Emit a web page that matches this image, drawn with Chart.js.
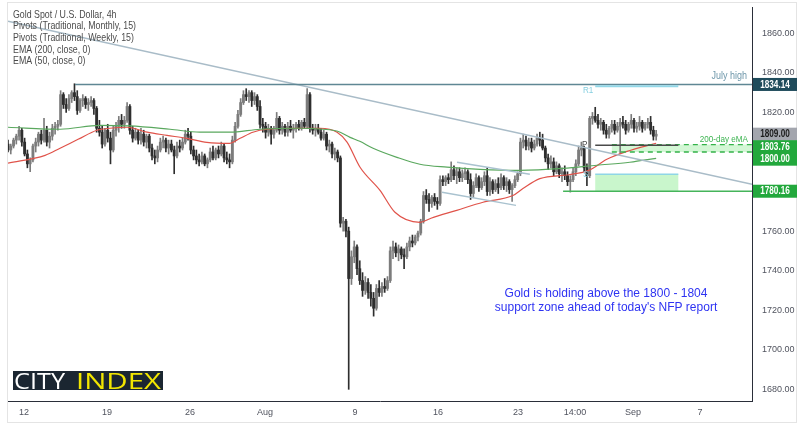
<!DOCTYPE html>
<html><head><meta charset="utf-8">
<script src="https://cdn.jsdelivr.net/npm/chart.js@4/dist/chart.umd.min.js"></script>
<style>html,body{margin:0;padding:0;background:#fff}#wrap{width:801px;height:427px;position:relative}</style>
</head><body><div id="wrap"><canvas id="c" width="801" height="427"></canvas></div>
<script>
// ---- data (4h candles, index 0 = first candle shown) ----
const opens = [
1804,1801,1803,1806,1808,1811,1805,1799,1794,1796,
1803,1805,1809,1806,1811,1805,1808,1812,1813,1814,
1829,1824,1822,1827,1830,1828,1821,1826,1827,1824,
1825,1826,1822,1812,1810,1804,1811,1807,1801,1811,
1813,1816,1814,1816,1823,1811,1807,1810,1806,1809,
1805,1808,1802,1798,1797,1801,1805,1806,1802,1804,
1801,1798,1803,1802,1805,1809,1808,1801,1798,1796,
1795,1798,1794,1796,1800,1797,1801,1799,1803,1797,
1796,1795,1806,1813,1819,1825,1829,1828,1830,1826,
1828,1823,1814,1813,1810,1812,1809,1811,1817,1811,
1813,1810,1813,1811,1812,1814,1812,1815,1813,1829,
1812,1811,1812,1810,1807,1809,1803,1804,1799,1800,
1797,1764,1765,1760,1736,1747,1752,1741,1735,1730,
1734,1729,1726,1721,1731,1729,1732,1731,1735,1750,
1752,1749,1751,1748,1747,1752,1755,1754,1757,1759,
1765,1778,1776,1774,1777,1775,1774,1786,1785,1787,
1786,1791,1788,1790,1787,1789,1790,1786,1779,1783,
1787,1782,1785,1788,1780,1785,1781,1784,1782,1787,
1783,1785,1781,1783,1786,1789,1805,1806,1803,1805,
1802,1804,1807,1806,1802,1797,1794,1795,1790,1793,
1789,1790,1788,1785,1786,1790,1794,1801,1802,1792,
1788,1817,1818,1816,1814,1815,1811,1809,1812,1814,
1811,1813,1815,1814,1811,1814,1816,1812,1813,1815,
1812,1814,1815,1811,1808];
const highs = [
1806,1804,1807,1809,1813,1812,1807,1801,1797,1804,
1807,1810,1811,1817,1813,1810,1814,1815,1816,1831,
1830,1827,1829,1831,1834.5,1831,1827,1829,1828,1827,
1828,1827,1823,1816,1813,1812,1814,1810,1813,1815,
1818,1819,1818,1825,1824,1813,1812,1811,1812,1811,
1809,1809,1804,1801,1803,1807,1808,1807,1806,1806,
1803,1805,1806,1807,1811,1812,1810,1803,1801,1799,
1800,1799,1797,1802,1803,1802,1803,1805,1804,1800,
1799,1808,1815,1821,1827,1831,1832,1831,1831,1830,
1829,1826,1817,1815,1814,1813,1813,1820,1818,1815,
1814,1815,1816,1814,1815,1816,1816,1817,1832,1830,
1814,1814,1814,1812,1811,1810,1806,1805,1802,1801,
1798,1767,1766,1762,1750,1755,1753,1745,1739,1737,
1736,1733,1729,1733,1735,1734,1736,1737,1752,1755,
1754,1753,1752,1751,1754,1757,1758,1758,1760,1766,
1780,1781,1779,1778,1779,1777,1788,1788,1788,1789,
1795,1793,1792,1792,1791,1792,1791,1789,1785,1789,
1788,1787,1790,1792,1787,1786,1786,1787,1789,1788,
1787,1786,1784,1788,1790,1807,1809,1808,1807,1807,
1806,1809,1810,1809,1803,1799,1798,1797,1795,1794,
1792,1793,1790,1788,1792,1796,1803,1805,1803,1794,
1818,1820,1822.6,1819,1817,1816,1814,1813,1816,1816,
1815,1817,1818,1816,1815,1819,1817,1815,1818,1816,
1815,1817,1818,1813,1811];
const lows = [
1800,1799,1802,1804,1806,1803,1798,1792,1790,1795,
1800,1803,1804,1805,1803,1802,1806,1809,1811,1813,
1822,1820,1821,1825,1826,1819,1820,1823,1822,1821,
1823,1819,1810,1808,1802,1803,1805,1794,1800,1808,
1810,1812,1812,1815,1809,1805,1806,1804,1804,1803,
1802,1800,1796,1794,1795,1800,1802,1800,1799,1800,
1789,1797,1800,1801,1804,1806,1799,1796,1794,1793,
1794,1793,1792,1795,1796,1796,1797,1798,1795,1794,
1792,1794,1805,1812,1818,1824,1826,1825,1823,1824,
1821,1812,1810,1807,1808,1804,1807,1810,1809,1809,
1808,1808,1810,1807,1810,1811,1811,1812,1812,1810,
1809,1808,1809,1806,1806,1801,1800,1797,1796,1795,
1762,1760,1757,1680,1733,1744,1738,1733,1727,1728,
1726,1722,1717,1720,1727,1727,1729,1730,1734,1746,
1747,1745,1746,1741,1746,1750,1752,1753,1755,1758,
1764,1774,1770,1772,1773,1771,1773,1783,1783,1784,
1785,1786,1784,1785,1785,1786,1784,1776,1777,1782,
1780,1781,1783,1778,1778,1779,1780,1779,1781,1781,
1780,1779,1775,1782,1785,1788,1802,1801,1801,1800,
1801,1803,1803,1801,1795,1791,1792,1788,1789,1787,
1785,1786,1783,1779.7,1785,1788,1793,1798,1790,1783,
1787,1814,1815,1812,1811,1809,1807,1807,1810,1809,
1810,1799.3,1812,1809,1810,1812,1810,1810,1811,1810,
1811,1812,1809,1806,1806];
const closes = [
1801,1803,1806,1808,1811,1805,1799,1794,1796,1803,
1805,1809,1806,1811,1805,1808,1812,1813,1814,1829,
1824,1822,1827,1830,1828,1821,1826,1827,1824,1825,
1826,1822,1812,1810,1804,1811,1807,1801,1811,1813,
1816,1814,1816,1823,1811,1807,1810,1806,1809,1805,
1808,1802,1798,1797,1801,1805,1806,1802,1804,1801,
1798,1803,1802,1805,1809,1808,1801,1798,1796,1795,
1798,1794,1796,1800,1797,1801,1799,1803,1797,1796,
1795,1806,1813,1819,1825,1829,1828,1830,1826,1828,
1823,1814,1813,1810,1812,1809,1811,1817,1811,1813,
1810,1813,1811,1812,1814,1812,1815,1813,1829,1812,
1811,1812,1810,1807,1809,1803,1804,1799,1800,1797,
1764,1765,1760,1736,1747,1752,1741,1735,1730,1734,
1729,1726,1721,1731,1729,1732,1731,1735,1750,1752,
1749,1751,1748,1747,1752,1755,1754,1757,1759,1765,
1778,1776,1774,1777,1775,1774,1786,1785,1787,1786,
1791,1788,1790,1787,1789,1790,1786,1779,1783,1787,
1782,1785,1788,1780,1785,1781,1784,1782,1787,1783,
1785,1781,1783,1786,1789,1805,1806,1803,1805,1802,
1804,1807,1806,1802,1797,1794,1795,1790,1793,1789,
1790,1788,1785,1786,1790,1794,1801,1802,1792,1788,
1817,1818,1816,1814,1815,1811,1809,1812,1814,1811,
1813,1815,1814,1811,1814,1816,1812,1813,1815,1812,
1814,1815,1811,1808,1809];

// EMA lines (candle index, price)
const ema200Idx = [0,18.8,33.2,44,58.5,69.3,80,91,105.4,113.7,119,123.5,127,131.8,140.4,148.7,158.5,170.4,184.8,200.4,212.6,224.5,234];
const ema200Val = [1812.5,1811.5,1813.5,1813.2,1811.5,1810,1810,1811.5,1812,1811.5,1810.5,1807.4,1805.4,1801.9,1797.3,1793.8,1792.3,1791.2,1790.7,1791.7,1793.3,1794.8,1796.8];
const ema50Idx = [0,13.4,18.8,25.3,32.1,36.8,43,50.2,57.4,64.6,71.8,80.1,83.8,88.4,93.5,105.4,112.6,118.8,122.4,127.1,134.3,139.7,148.7,152.7,162,171.5,182.3,185.9,192,202.5,209.7,216.2,223.5,234];
const ema50Val = [1794.4,1798.3,1801.9,1806.4,1811,1812,1812.5,1810,1808.4,1806.9,1804.9,1804.4,1806.9,1810,1811.5,1812,1812,1810,1805,1792.3,1780.6,1769.5,1764.4,1766.5,1770.5,1774.6,1778,1781.5,1786.5,1788.5,1790.7,1796.3,1800.3,1804.4];

// axis ticks
const xTickIdx = [5.8,35.7,65.7,92.8,125.3,155.2,184.1,204.7,225.6,249.8];
const xTickLabels = ['12','19','26','Aug','9','16','23','14:00','Sep','7'];
const yTicks = [1680,1700,1720,1740,1760,1780,1800,1820,1840,1860];

// levels / drawings (index, price)
const julyHigh = 1834.14, lastPrice = 1809.00, zoneTop = 1803.76, zoneBottom = 1800.00, supportLow = 1780.16;
const pivotR1 = 1833.2, pivotP = 1803.4, pivotS1 = 1788.7;
const pivotFrom = 212, pivotTo = 242;
const trendMain = [[0,1866.1],[268.6,1783.7]];
const channelUpper = [[162.1,1794.8],[188.4,1788.7]];
const channelLower = [[156.7,1779.6],[183.4,1773.0]];

const FONT = '"Liberation Sans",Arial,sans-serif';
const UP = '#7c7c7c', DOWN = '#2e2e2e';
const col = i => closes[i] >= opens[i] ? UP : DOWN;

const wickData = opens.map((o,i)=>({x:i, y:[lows[i], highs[i]]}));
const bodyData = opens.map((o,i)=>({x:i, y:[o, closes[i]]}));

const overlay = {
  id:'overlay',
  beforeDatasetsDraw(chart){
    const {ctx, scales:{x,y}, chartArea:a} = chart;
    ctx.save();
    ctx.beginPath(); ctx.rect(a.left,a.top,a.right-a.left,a.bottom-a.top); ctx.clip();
    ctx.fillStyle = '#c9f6cc';
    ctx.fillRect(x.getPixelForValue(pivotFrom), y.getPixelForValue(pivotS1),
      x.getPixelForValue(pivotTo)-x.getPixelForValue(pivotFrom), y.getPixelForValue(supportLow)-y.getPixelForValue(pivotS1));
    const zx = x.getPixelForValue(218);
    ctx.fillStyle = '#d3f7d5';
    ctx.fillRect(zx, y.getPixelForValue(zoneTop), a.right-zx, y.getPixelForValue(zoneBottom)-y.getPixelForValue(zoneTop));
    ctx.restore();
  },
  afterDatasetsDraw(chart){
    const {ctx, scales:{x,y}, chartArea:a} = chart;
    const X = v=>x.getPixelForValue(v), Y = v=>y.getPixelForValue(v);
    ctx.save();
    ctx.beginPath(); ctx.rect(a.left,a.top,a.right-a.left,a.bottom-a.top); ctx.clip();
    const seg = (p, c, w, dash) => { ctx.beginPath(); ctx.setLineDash(dash||[]); ctx.strokeStyle=c; ctx.lineWidth=w;
      ctx.moveTo(X(p[0][0]),Y(p[0][1])); ctx.lineTo(X(p[1][0]),Y(p[1][1])); ctx.stroke(); };
    seg(trendMain,'#a9bcc8',1.5);
    seg(channelUpper,'#a9c2cf',1.5);
    seg(channelLower,'#a9c2cf',1.5);
    seg([[24.2,julyHigh],[268.6,julyHigh]],'#5f8794',1.5);
    seg([[pivotFrom,pivotR1],[pivotTo,pivotR1]],'#93d8e8',2);
    seg([[pivotFrom,pivotS1],[pivotTo,pivotS1]],'#8fd6e6',1.5);
    seg([[218,zoneTop],[268.6,zoneTop]],'#34b34a',1.3,[5,4]);
    seg([[218,zoneBottom],[268.6,zoneBottom]],'#34b34a',1.3,[5,4]);
    seg([[pivotFrom,pivotP],[pivotTo,pivotP]],'#4a4a4a',1.5);
    seg([[200.4,supportLow],[268.6,supportLow]],'#45b45a',1.5);
    ctx.setLineDash([]);
    ctx.textBaseline='middle';
    const txt=(t,x0,y0,align,font,c,sx)=>{ctx.save();ctx.font=font;ctx.fillStyle=c;ctx.textAlign=align;ctx.translate(x0,y0);ctx.scale(sx||1,1);ctx.fillText(t,0,0);ctx.restore();};
    txt('July high',747,Y(julyHigh)-8,'right','10px '+FONT,'#6e97aa',0.9);
    txt('200-day eMA',748,Y(zoneTop)-5,'right','9px '+FONT,'#3cb450',0.9);
    txt('R1',583,Y(pivotR1)+4,'left','9px '+FONT,'#86cfe0',0.9);
    txt('S',583,Y(pivotS1),'left','9px '+FONT,'#86cfe0',0.9);
    txt('P',582,Y(pivotP)-1,'left','9px '+FONT,'#4a4a4a',0.9);
    ctx.restore();
  },
  afterDraw(chart){
    const {ctx, scales:{y}} = chart;
    ctx.save();
    ctx.strokeStyle='#e4e4e4'; ctx.lineWidth=1; ctx.strokeRect(7.5,2.5,789,420);
    ctx.fillStyle='#4b4b4b'; ctx.font='10.5px '+FONT; ctx.textAlign='left'; ctx.textBaseline='middle';
    ['Gold Spot / U.S. Dollar, 4h','Pivots (Traditional, Monthly, 15)','Pivots (Traditional, Weekly, 15)','EMA (200, close, 0)','EMA (50, close, 0)']
      .forEach((t,k)=>{ctx.save(); ctx.translate(13, 15+k*11.6); ctx.scale(0.84,1); ctx.fillText(t,0,0); ctx.restore();});
    ctx.fillStyle='#2e33f2'; ctx.font='12px '+FONT; ctx.textAlign='center';
    ctx.fillText('Gold is holding above the 1800 - 1804', 606, 294);
    ctx.fillText("support zone ahead of today's NFP report", 606, 308);
    ctx.fillStyle='#1b2631'; ctx.fillRect(13,371,150,19);
    ctx.textAlign='left'; ctx.textBaseline='alphabetic';
    const drawFit=(t,x0,w,c)=>{ctx.font='400 21px "Open Sans",sans-serif'; const m=ctx.measureText(t).width; ctx.save(); ctx.translate(x0,388.5); ctx.scale(w/m,1); ctx.fillStyle=c; ctx.fillText(t,0,0); ctx.restore();};
    drawFit('CITY',14,51,'#ffffff');
    drawFit('INDEX',76,85,'#f2e600');
    const badges = [
      {v:julyHigh,bg:'#1f4b5b',fg:'#ffffff'},
      {v:lastPrice,bg:'#a3a6ae',fg:'#1b1b1b'},
      {v:zoneTop,bg:'#22a83c',fg:'#ffffff'},
      {v:zoneBottom,bg:'#22a83c',fg:'#ffffff'},
      {v:supportLow,bg:'#22a83c',fg:'#ffffff'}
    ].map(b=>({...b, py:y.getPixelForValue(b.v)})).sort((a,b)=>a.py-b.py);
    for(let k=1;k<badges.length;k++){ if(badges[k].py < badges[k-1].py+12.5) badges[k].py = badges[k-1].py+12.5; }
    ctx.font='bold 10px '+FONT; ctx.textAlign='center'; ctx.textBaseline='middle';
    badges.forEach(b=>{ ctx.fillStyle=b.bg; ctx.fillRect(753,b.py-6.5,44,13); ctx.fillStyle=b.fg;
      ctx.save(); ctx.translate(775,b.py+0.5); ctx.scale(0.82,1); ctx.fillText(b.v.toFixed(2),0,0); ctx.restore(); });
    ctx.restore();
  }
};

new Chart(document.getElementById('c'), {
  type:'bar',
  data:{ datasets:[
    {type:'line', data:ema200Idx.map((v,k)=>({x:v,y:ema200Val[k]})), borderColor:'#5aa85e', borderWidth:1.2, pointRadius:0, cubicInterpolationMode:'monotone', order:1},
    {type:'line', data:ema50Idx.map((v,k)=>({x:v,y:ema50Val[k]})), borderColor:'#e0534a', borderWidth:1.2, pointRadius:0, cubicInterpolationMode:'monotone', order:1},
    {data:bodyData, backgroundColor:ctx=>col(ctx.dataIndex), barThickness:2.2, minBarLength:1, grouped:false, order:2},
    {data:wickData, backgroundColor:ctx=>col(ctx.dataIndex), barThickness:1, grouped:false, order:3}
  ]},
  options:{
    responsive:false, animation:false, devicePixelRatio:1,
    layout:{padding:{left:8, top:7, right:0, bottom:0}},
    plugins:{legend:{display:false}, tooltip:{enabled:false}},
    scales:{
      x:{type:'linear', min:0, max:268.6, offset:false,
        grid:{display:false, drawTicks:false}, border:{display:true, color:'#2a2e39'},
        afterBuildTicks:s=>{s.ticks = xTickIdx.map(v=>({value:v}));},
        ticks:{autoSkip:false, maxRotation:0, padding:6, color:'#50535e', font:{family:FONT,size:9}, callback:(v,i)=>xTickLabels[i]},
        afterFit:s=>{s.height=26; s.paddingLeft=0; s.paddingRight=0;}},
      y:{type:'linear', position:'right', min:1674.1, max:1873.3,
        grid:{display:false, drawTicks:false}, border:{display:true, color:'#2a2e39'},
        afterBuildTicks:s=>{s.ticks = yTicks.map(v=>({value:v}));},
        ticks:{padding:10, color:'#50535e', font:{family:FONT,size:9}, callback:v=>v.toFixed(2)},
        afterFit:s=>{s.width=49; s.paddingTop=0; s.paddingBottom=0;}}
    }
  },
  plugins:[overlay]
});
</script>
</body></html>
